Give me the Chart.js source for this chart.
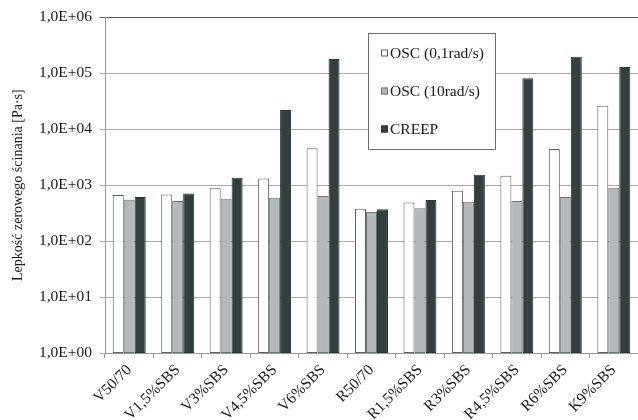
<!DOCTYPE html>
<html>
<head>
<meta charset="utf-8">
<script src="https://cdn.jsdelivr.net/npm/chart.js@4"></script>
<style>
    html, body { margin: 0; padding: 0; background: #fff; }
    #wrap { width: 638px; height: 420px; }
</style>
</head>
<body>
<div id="wrap"><canvas id="viscChart"></canvas></div>
<script>
const categories = ['V50/70', 'V1,5%SBS', 'V3%SBS', 'V4,5%SBS', 'V6%SBS',
    'R50/70', 'R1,5%SBS', 'R3%SBS', 'R4,5%SBS', 'R6%SBS', 'K9%SBS'];
const osc01 = [667, 684, 899, 1318, 4570, 380, 492, 795, 1469, 4443, 26200];
const osc10 = [550, 521, 573, 597, 640, 332, 385, 507, 521, 614, 899];
const creep = [617, 711, 1355, 21970, 179600, 370, 543, 1531, 81500, 198000, 129400];
const yTicks = [1, 10, 100, 1000, 10000, 100000, 1000000];
const seriesNames = ['OSC (0,1rad/s)', 'OSC (10rad/s)', 'CREEP'];

const serif = "'Liberation Serif', 'Times New Roman', serif";
const fills = ['#ffffff', '#b5b8ba', '#344040'];
const borders = ['#5c6262', '#6e7474', '#2c3535'];

function formatTick(value) {
    const exp = Math.round(Math.log10(value));
    return '1,0E+' + String(exp).padStart(2, '0');
}

// legend box drawn by hand, like the original spreadsheet one
const boxLegend = {
    id: 'boxLegend',
    afterDraw(chart) {
        const ctx = chart.ctx;
        ctx.save();
        ctx.fillStyle = '#fff';
        ctx.fillRect(368, 33, 127, 116);
        ctx.strokeStyle = '#707070';
        ctx.lineWidth = 1;
        ctx.strokeRect(368.5, 33.5, 127, 116);
        const rows = [53, 91, 129];
        ctx.font = '15.5px ' + serif;
        ctx.textBaseline = 'middle';
        for (let i = 0; i < seriesNames.length; i++) {
            ctx.fillStyle = fills[i];
            ctx.fillRect(381, rows[i] - 3.5, 7, 7);
            ctx.strokeStyle = borders[i];
            ctx.strokeRect(381.5, rows[i] - 3, 6, 6);
            ctx.fillStyle = '#1a1a1a';
            ctx.fillText(seriesNames[i], 390, rows[i] + 1);
        }
        ctx.restore();
    }
};

const datasets = [osc01, osc10, creep].map((vals, i) => ({
    label: seriesNames[i],
    data: vals,
    backgroundColor: fills[i],
    borderColor: borders[i],
    borderWidth: 1,
    borderSkipped: false,
    barPercentage: 1.0,
    categoryPercentage: 0.68,
}));

new Chart(document.getElementById('viscChart'), {
    type: 'bar',
    data: { labels: categories, datasets: datasets },
    plugins: [boxLegend],
    options: {
        responsive: true,
        maintainAspectRatio: false,
        animation: false,
        layout: { padding: { top: 16, right: 0, left: 0, bottom: 0 } },
        plugins: {
            legend: { display: false },
            tooltip: { enabled: false },
        },
        scales: {
            x: {
                grid: {
                    offset: true,
                    drawOnChartArea: false,
                    drawTicks: true,
                    tickLength: 5,
                    color: '#9a9a9a',
                },
                border: { display: true, color: '#9a9a9a' },
                ticks: {
                    color: '#1a1a1a',
                    font: { family: serif, size: 15.5 },
                    minRotation: 45,
                    maxRotation: 45,
                    padding: 3,
                    autoSkip: false,
                },
                afterFit: (scale) => {
                    scale.height = 67;
                    scale.paddingLeft = 0;
                    scale.paddingRight = 0;
                },
            },
            y: {
                type: 'logarithmic',
                min: 1,
                max: 1000000,
                afterBuildTicks: (scale) => {
                    scale.ticks = yTicks.map(v => ({ value: v, major: true }));
                },
                grid: {
                    color: (context) => context.tick && context.tick.value === 1000000 ? '#555a5a' : '#a8a8a8',
                    tickLength: 5,
                    drawTicks: true,
                },
                border: { display: true, color: '#9a9a9a' },
                ticks: {
                    color: '#1a1a1a',
                    font: { family: serif, size: 15.5 },
                    padding: 8,
                    callback: (value) => formatTick(value),
                },
                title: {
                    display: true,
                    text: 'Lepkość zerowego ścinania [Pa·s]',
                    color: '#1a1a1a',
                    font: { family: serif, size: 14 },
                    padding: { top: 10, bottom: 0 },
                },
                afterFit: (scale) => {
                    scale.width = 105;
                },
            },
        },
    },
});
</script>
</body>
</html>
